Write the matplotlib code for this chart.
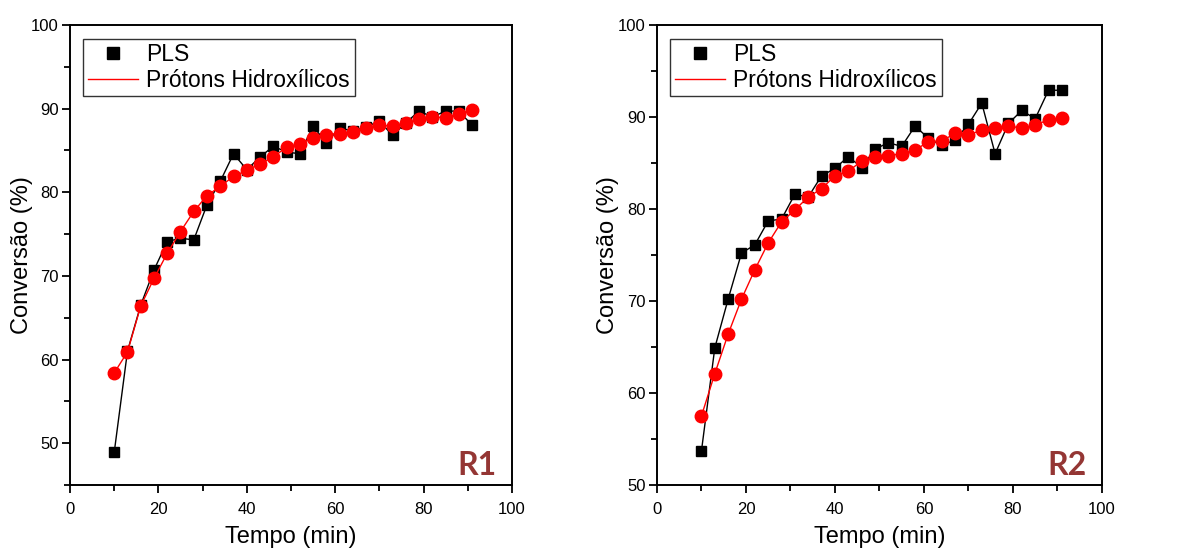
import matplotlib
matplotlib.use('Agg')
import matplotlib.pyplot as plt
import numpy as np
from matplotlib.ticker import MultipleLocator

plt.rcParams['font.family'] = ['Liberation Sans', 'DejaVu Sans']

# tempo (min), same grid for both reactors
tempo = [10, 13, 16, 19, 22, 25, 28, 31, 34, 37, 40, 43, 46, 49,
         52, 55, 58, 61, 64, 67, 70, 73, 76, 79, 82, 85, 88, 91]

# R1
r1_pls = [48.9, 61.0, 66.5, 70.7, 74.1, 74.5, 74.3, 78.5, 81.3, 84.6, 82.7, 84.2, 85.5, 84.8,
          84.6, 87.9, 85.9, 87.7, 87.3, 87.8, 88.5, 86.8, 88.3, 89.7, 89.0, 89.7, 89.7, 88.0]
r1_oh = [58.4, 60.9, 66.4, 69.7, 72.7, 75.3, 77.7, 79.6, 80.7, 81.9, 82.6, 83.4, 84.2, 85.4,
         85.8, 86.5, 86.9, 87.0, 87.2, 87.7, 88.0, 87.9, 88.3, 88.7, 89.0, 88.9, 89.4, 89.8]

# R2
r2_pls = [53.7, 64.9, 70.2, 75.2, 76.1, 78.7, 78.9, 81.6, 81.3, 83.6, 84.4, 85.7, 84.5, 86.5,
          87.2, 86.8, 89.0, 87.7, 86.9, 87.5, 89.2, 91.5, 86.0, 89.3, 90.7, 89.8, 92.9, 92.9]
r2_oh = [57.5, 62.1, 66.4, 70.2, 73.4, 76.3, 78.6, 79.9, 81.3, 82.2, 83.6, 84.1, 85.2, 85.6,
         85.8, 86.0, 86.4, 87.3, 87.4, 88.2, 88.0, 88.6, 88.8, 89.0, 88.8, 89.1, 89.7, 89.9]

panels = [
    ('R1', r1_pls, r1_oh, (45, 100), [0.0588, 0.1166, 0.371, 0.838]),
    ('R2', r2_pls, r2_oh, (50, 100), [0.5516, 0.1166, 0.3736, 0.838]),
]

fig = plt.figure(figsize=(11.91, 5.49), dpi=100)

for name, pls, oh, ylim, rect in panels:
    ax = fig.add_axes(rect)
    ax.plot(tempo, pls, color='black', lw=1, marker='s', ms=7, mfc='black', mec='black', zorder=3)
    ax.plot(tempo, oh, color='red', lw=1, marker='o', ms=9, mfc='red', mec='red', zorder=4)

    ax.set_xlim(0, 100)
    ax.set_ylim(*ylim)
    ax.xaxis.set_major_locator(MultipleLocator(20))
    ax.xaxis.set_minor_locator(MultipleLocator(10))
    ax.yaxis.set_major_locator(MultipleLocator(10))
    ax.yaxis.set_minor_locator(MultipleLocator(5))
    ax.tick_params(which='major', direction='out', length=6, width=1.3, labelsize=12, pad=2)
    ax.tick_params(axis='x', which='major', pad=6)
    ax.tick_params(which='minor', direction='out', length=4, width=1.3)
    for s in ax.spines.values():
        s.set_linewidth(1.4)

    ax.set_xlabel('Tempo (min)', fontsize=17, labelpad=7)
    ax.set_ylabel('Conversão (%)', fontsize=17, labelpad=-1)

    # legend: square for PLS, plain line for OH
    h1, = ax.plot([], [], ls='none', marker='s', ms=8, color='black')
    h2, = ax.plot([], [], color='red', lw=1)
    leg = ax.legend([h1, h2], ['PLS', 'Prótons Hidroxílicos'], loc='upper left',
                    bbox_to_anchor=(0.02, 0.98), fontsize=16.5, frameon=True, fancybox=False,
                    borderpad=0.2, handlelength=2.2, handletextpad=0.35, labelspacing=0.1,
                    borderaxespad=0.2)
    leg.get_frame().set_edgecolor('black')
    leg.get_frame().set_linewidth(1.0)

    ax.text(0.965, 0.022, name, transform=ax.transAxes, ha='right', va='baseline',
            fontsize=23, fontweight='bold', color='#943634', family='Lato')

fig.savefig('out.png', dpi=100)
